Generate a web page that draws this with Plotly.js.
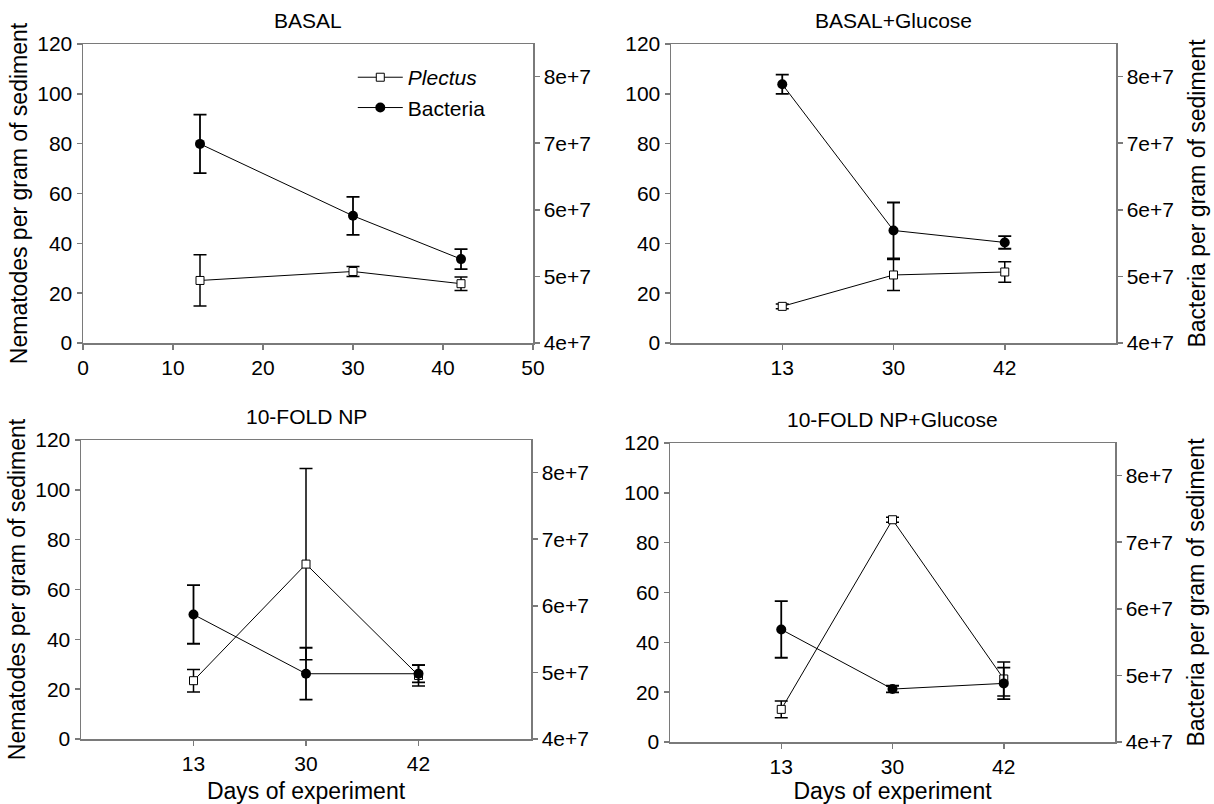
<!DOCTYPE html>
<html>
<head>
<meta charset="utf-8">
<script src="https://cdn.plot.ly/plotly-3.0.1.min.js"></script>
<style>html,body{margin:0;padding:0;background:#fff;}#chart{width:1214px;height:804px;}</style>
</head>
<body>
<div id="chart"></div>
<script>
// ---- data ----
var days = [13, 30, 42];
var dayLabels = ['13', '30', '42'];
var panelTitles = ['BASAL', 'BASAL+Glucose', '10-FOLD NP', '10-FOLD NP+Glucose'];

var basalPlectus = [25.1, 28.7, 23.8];
var basalPlectusErr = [10.3, 2.0, 2.7];
var basalBacteria = [6.99e7, 5.91e7, 5.26e7];
var basalBacteriaErr = [0.44e7, 0.285e7, 0.15e7];

var glucosePlectus = [14.7, 27.3, 28.5];
var glucosePlectusErr = [1.0, 6.2, 4.1];
var glucoseBacteria = [7.885e7, 5.69e7, 5.51e7];
var glucoseBacteriaErr = [0.145e7, 0.42e7, 0.095e7];

var npPlectus = [23.4, 70.2, 25.5];
var npPlectusErr = [4.5, 38.4, 4.2];
var npBacteria = [5.87e7, 4.98e7, 4.98e7];
var npBacteriaErr = [0.44e7, 0.39e7, 0.13e7];

var npGlucosePlectus = [13.1, 89.2, 25.3];
var npGlucosePlectusErr = [3.4, 1.0, 6.8];
var npGlucoseBacteria = [5.69e7, 4.795e7, 4.88e7];
var npGlucoseBacteriaErr = [0.425e7, 0.05e7, 0.236e7];

var leftTicks = [0, 20, 40, 60, 80, 100, 120];
var rightTickVals = [4e7, 5e7, 6e7, 7e7, 8e7];
var rightTickText = ['4e+7', '5e+7', '6e+7', '7e+7', '8e+7'];
var linearTicks = [0, 10, 20, 30, 40, 50];

// ---- build ----
var FONT = 'Liberation Sans, Arial, sans-serif';
var W = 1214, H = 804;
var boxes = [
  {l: 83, r: 533, t: 44, b: 343},
  {l: 671, r: 1116, t: 44, b: 343},
  {l: 81, r: 531, t: 440, b: 739},
  {l: 670, r: 1115, t: 443, b: 742}
];
var series = [
  [basalPlectus, basalPlectusErr, basalBacteria, basalBacteriaErr],
  [glucosePlectus, glucosePlectusErr, glucoseBacteria, glucoseBacteriaErr],
  [npPlectus, npPlectusErr, npBacteria, npBacteriaErr],
  [npGlucosePlectus, npGlucosePlectusErr, npGlucoseBacteria, npGlucoseBacteriaErr]
];

var data = [];
var layout = {
  width: W, height: H,
  margin: {l: 0, r: 0, t: 0, b: 0},
  paper_bgcolor: '#fff', plot_bgcolor: 'rgba(0,0,0,0)',
  font: {family: FONT, size: 20, color: '#000'},
  showlegend: true,
  legend: {x: 0.2906, y: 0.929, xanchor: 'left', yanchor: 'top', bgcolor: 'rgba(0,0,0,0)',
           itemwidth: 45,
           font: {family: FONT, size: 21, color: '#000'}, tracegroupgap: 0},
  annotations: []
};

var axisColor = '#7a7a7a';

for (var i = 0; i < 4; i++) {
  var bx = boxes[i];
  var xn = i === 0 ? '' : String(i + 1);
  var yl = String(2 * i + 1), yr = String(2 * i + 2);
  var yln = yl === '1' ? '' : yl;
  var xdom = [bx.l / W, bx.r / W];
  var ydom = [1 - bx.b / H, 1 - bx.t / H];
  var isLinear = (i === 0);
  var xvals = isLinear ? days : dayLabels;
  var s = series[i];

  data.push({
    x: xvals, y: s[0], xaxis: 'x' + xn, yaxis: 'y' + yln,
    type: 'scatter', mode: 'lines+markers', name: '<i>Plectus</i>',
    showlegend: i === 0, legendrank: 1,
    line: {color: '#000', width: 1},
    marker: {symbol: 'square', size: 8, color: '#fff', line: {color: '#000', width: 1}},
    error_y: {type: 'data', array: s[1], visible: true, color: '#000', thickness: 1.5, width: 6.5}
  });
  data.push({
    x: xvals, y: s[2], xaxis: 'x' + xn, yaxis: 'y' + yr,
    type: 'scatter', mode: 'lines+markers', name: 'Bacteria',
    showlegend: i === 0, legendrank: 2,
    line: {color: '#000', width: 1},
    marker: {symbol: 'circle', size: 10, color: '#000'},
    error_y: {type: 'data', array: s[3], visible: true, color: '#000', thickness: 1.8, width: 6.5}
  });

  var xa = {
    domain: xdom, anchor: 'y' + yln,
    showline: true, mirror: true, linecolor: axisColor, linewidth: 1.5,
    ticks: 'outside', ticklen: 5, tickwidth: 1.5, tickcolor: axisColor,
    showgrid: false, zeroline: false,
    tickfont: {family: FONT, size: 21, color: '#000'}
  };
  if (isLinear) {
    xa.type = 'linear'; xa.range = [0, 50]; xa.tickvals = linearTicks;
  } else {
    xa.type = 'category'; xa.range = [-1, 3];
  }
  if (i >= 2) {
    xa.title = {text: 'Days of experiment', font: {family: FONT, size: 23, color: '#000'}, standoff: 14};
  }
  layout['xaxis' + xn] = xa;

  var ya = {
    domain: ydom, anchor: 'x' + xn, range: [0, 120], tickvals: leftTicks,
    showline: true, linecolor: axisColor, linewidth: 1.5,
    ticks: 'outside', ticklen: 5, tickwidth: 1.5, tickcolor: axisColor,
    showgrid: false, zeroline: false,
    tickfont: {family: FONT, size: 21, color: '#000'}
  };
  if (i === 0 || i === 2) {
    ya.title = {text: 'Nematodes per gram of sediment', font: {family: FONT, size: 23, color: '#000'}};
  }
  layout['yaxis' + yln] = ya;

  var yb = {
    overlaying: 'y' + yln, anchor: 'x' + xn, side: 'right', range: [4e7, 8.49e7],
    tickvals: rightTickVals, ticktext: rightTickText,
    showline: true, linecolor: axisColor, linewidth: 1.5,
    ticks: 'outside', ticklen: 5, tickwidth: 1.5, tickcolor: axisColor,
    showgrid: false, zeroline: false,
    tickfont: {family: FONT, size: 21, color: '#000'}
  };
  if (i === 1 || i === 3) {
    yb.title = {text: 'Bacteria per gram of sediment', font: {family: FONT, size: 23, color: '#000'}, standoff: 16};
  }
  layout['yaxis' + yr] = yb;

  layout.annotations.push({
    text: panelTitles[i], xref: 'paper', yref: 'paper',
    x: (bx.l + bx.r) / 2 / W, y: 1 - (bx.t - 24) / H,
    xanchor: 'center', yanchor: 'middle', showarrow: false,
    font: {family: FONT, size: 21, color: '#000'}
  });
}

Plotly.newPlot('chart', data, layout, {staticPlot: true, displayModeBar: false});
</script>
</body>
</html>
